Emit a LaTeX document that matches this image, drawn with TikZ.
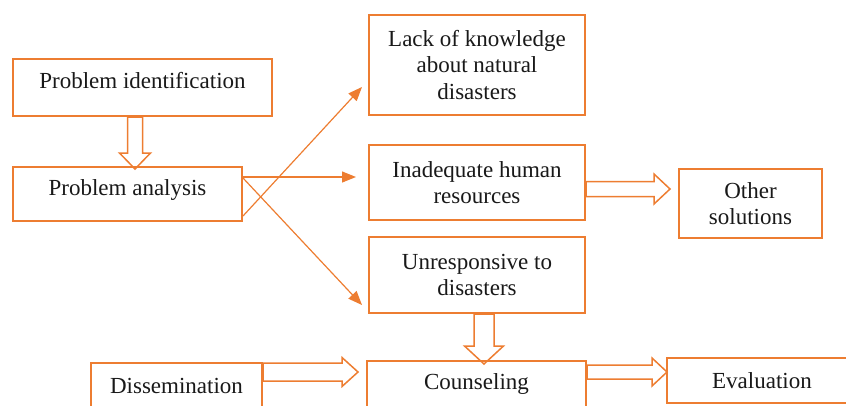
\documentclass[tikz,border=0pt]{standalone}
\usepackage{fontspec}
\setmainfont{Liberation Serif}
\usetikzlibrary{arrows.meta,calc}
\definecolor{orng}{HTML}{ED7D31}
\tikzset{
    box/.style = {draw=orng, line width=2pt, fill=white, align=center, inner sep=0pt,
        font=\fontsize{23}{26.5}\selectfont, text=black!90},
    thinarrow/.style = {draw=orng, line width=1.2pt, -{Triangle[length=14pt,width=11pt]}},
    hollow/.style n args = {3}{draw=orng, line width=1.5pt, line join=miter,
        to path={(\tikztostart) coordinate (hs) (\tikztotarget) coordinate (ht)
            ($(ht)!#3!(hs)$) coordinate (hh)
            ($(hs)!#1!90:(ht)$) -- ($(hh)!#1!-90:(hs)$) -- ($(hh)!#2!-90:(hs)$) -- (ht)
            -- ($(hh)!#2!90:(hs)$) -- ($(hh)!#1!90:(hs)$) -- ($(hs)!#1!-90:(ht)$) -- cycle}}
}
\begin{document}
\begin{tikzpicture}[x=1pt, y=-1pt]
        \useasboundingbox (0,0) rectangle (846,405);
        \clip (0,0) rectangle (846,405);
        \node[box, minimum width=259pt, minimum height=57pt, text depth=15pt] (pi) at (142.5,87.5) {Problem identification};
        \node[box, minimum width=229pt, minimum height=54pt, text depth=12pt] (pa) at (127.5,194) {Problem analysis};
        \node[box, minimum width=216pt, minimum height=100pt] (lack) at (477,65) {Lack of knowledge\\about natural\\disasters};
        \node[box, minimum width=216pt, minimum height=75pt] (inad) at (477,182.5) {Inadequate human\\resources};
        \node[box, minimum width=216pt, minimum height=76pt] (unr) at (477,275) {Unresponsive to\\disasters};
        \node[box, minimum width=143pt, minimum height=69pt] (oth) at (750.5,203.5) {Other\\solutions};
        \node[box, minimum width=171pt, minimum height=46pt] (dis) at (176.5,386) {Dissemination};
        \node[box, minimum width=219pt, minimum height=46pt] (coun) at (476.5,384) {Counseling};
        \node[box, minimum width=190pt, minimum height=45pt] (eval) at (762,380.5) {Evaluation};
        \draw[thinarrow] ([yshift=-22pt]pa.east) -- ([xshift=-6pt,yshift=-22pt]lack.west);
        \draw[thinarrow] ([yshift=17pt]pa.east) -- ([xshift=-12pt,yshift=5.5pt]inad.west);
        \draw[thinarrow] ([yshift=16pt]pa.east) -- ([xshift=-6pt,yshift=-30pt]unr.west);
        \draw[hollow={7.5pt}{15.5pt}{16pt}] ([xshift=-7.5pt]pi.south) to ([xshift=7.5pt,yshift=-3pt]pa.north);
        \draw[hollow={7.5pt}{15pt}{16pt}] ([yshift=-6.5pt]inad.east) to ([xshift=-8pt,yshift=14.5pt]oth.west);
        \draw[hollow={10pt}{19.5pt}{18pt}] ([xshift=7pt]unr.south) to ([xshift=7.5pt,yshift=-4pt]coun.north);
        \draw[hollow={9pt}{14.5pt}{16pt}] ([yshift=14pt]dis.east) to ([xshift=-8pt,yshift=12pt]coun.west);
        \draw[hollow={7pt}{14pt}{15pt}] ([yshift=12pt]coun.east) to ([xshift=1pt,yshift=8.5pt]eval.west);
\end{tikzpicture}
\end{document}
